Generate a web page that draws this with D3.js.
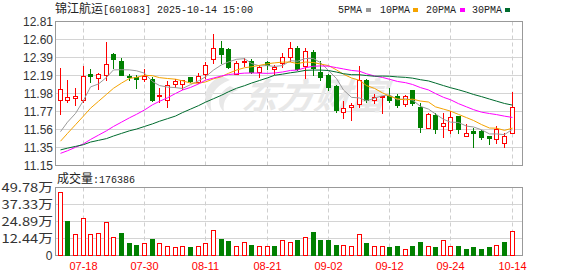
<!DOCTYPE html>
<html><head><meta charset="utf-8">
<script src="https://cdn.jsdelivr.net/npm/d3@7"></script>
<style>body{margin:0;background:#fff}svg{display:block}</style>
</head><body>
<svg id="c" width="578" height="276"></svg>
<script>
const dates = ["07-15","07-16","07-17","07-18","07-21","07-22","07-23","07-24","07-25","07-28","07-29","07-30","07-31",
"08-01","08-04","08-05","08-06","08-07","08-08","08-11","08-12","08-13","08-14","08-15","08-18","08-19","08-20","08-21","08-22","08-25","08-26","08-27","08-28","08-29",
"09-01","09-02","09-03","09-04","09-05","09-08","09-09","09-10","09-11","09-12","09-15","09-16","09-17","09-18","09-19","09-22","09-23","09-24","09-25","09-26","09-29","09-30",
"10-09","10-10","10-13","10-14"];
const open  = [11.90,11.91,11.93,11.90,12.20,12.16,12.19,12.44,12.36,12.18,12.17,12.15,12.15,11.95,11.91,12.09,12.09,12.17,12.11,12.21,12.38,12.50,12.49,12.21,12.34,12.35,12.23,12.34,12.26,12.33,12.40,12.50,12.30,12.46,12.23,12.19,12.07,11.77,11.83,11.86,12.13,11.91,11.94,11.95,11.95,11.86,12.02,11.83,11.58,11.73,11.61,11.56,11.72,11.49,11.55,11.55,11.49,11.46,11.41,11.53];
const high  = [12.27,12.13,12.04,12.30,12.26,12.22,12.57,12.45,12.39,12.21,12.19,12.26,12.17,12.04,12.12,12.15,12.14,12.17,12.22,12.34,12.67,12.59,12.51,12.35,12.39,12.38,12.31,12.35,12.31,12.45,12.57,12.53,12.50,12.48,12.35,12.21,12.08,11.89,11.87,12.30,12.15,11.98,11.95,12.04,11.97,11.96,12.02,11.87,11.76,11.76,11.76,11.78,11.72,11.63,11.58,11.56,11.49,11.60,11.53,12.00];
const low   = [11.74,11.88,11.85,11.88,12.11,12.03,12.13,12.27,12.19,12.13,12.04,12.12,11.89,11.88,11.82,12.05,12.03,12.11,12.10,12.16,12.33,12.33,12.27,12.20,12.30,12.22,12.17,12.26,12.21,12.28,12.36,12.25,12.16,12.19,12.13,12.02,11.77,11.70,11.68,11.82,11.88,11.87,11.75,11.88,11.83,11.84,11.85,11.54,11.58,11.53,11.48,11.53,11.53,11.49,11.36,11.45,11.40,11.41,11.36,11.53];
const close = [12.03,11.94,11.95,12.18,12.18,12.20,12.32,12.38,12.19,12.17,12.15,12.18,11.90,11.96,12.08,12.12,12.13,12.12,12.18,12.31,12.51,12.43,12.29,12.33,12.35,12.23,12.29,12.31,12.28,12.40,12.51,12.26,12.47,12.27,12.17,12.06,11.79,11.81,11.85,12.13,11.90,11.94,11.95,11.90,11.85,11.95,11.87,11.59,11.74,11.57,11.64,11.71,11.57,11.53,11.52,11.48,11.47,11.57,11.49,11.83];
const ma5  = [11.54,11.65,11.75,11.90,12.056,12.090,12.166,12.252,12.254,12.252,12.242,12.214,12.118,12.072,12.054,12.048,12.038,12.082,12.126,12.172,12.250,12.310,12.344,12.374,12.382,12.326,12.298,12.302,12.292,12.302,12.358,12.352,12.384,12.382,12.336,12.246,12.152,12.020,11.936,11.928,11.896,11.926,11.954,11.964,11.908,11.918,11.904,11.832,11.800,11.744,11.682,11.650,11.646,11.604,11.594,11.562,11.514,11.514,11.506,11.568];
const ma10 = [11.43,11.52,11.62,11.72,11.81,11.89,11.97,12.04,12.10,12.154,12.166,12.190,12.185,12.163,12.153,12.145,12.126,12.100,12.099,12.113,12.149,12.174,12.213,12.250,12.277,12.288,12.304,12.323,12.333,12.342,12.342,12.325,12.343,12.337,12.319,12.302,12.252,12.202,12.159,12.132,12.071,12.039,11.987,11.950,11.918,11.907,11.915,11.893,11.882,11.826,11.800,11.777,11.739,11.702,11.669,11.622,11.582,11.580,11.555,11.581];
const ma20 = [11.29,11.32,11.36,11.40,11.45,11.50,11.55,11.60,11.65,11.70,11.74,11.79,11.85,11.89,11.93,11.98,12.02,12.05,12.09,12.134,12.158,12.182,12.199,12.207,12.215,12.217,12.215,12.212,12.216,12.228,12.246,12.250,12.278,12.294,12.298,12.295,12.278,12.263,12.246,12.237,12.207,12.182,12.165,12.144,12.119,12.105,12.084,12.048,12.021,11.979,11.936,11.908,11.863,11.826,11.794,11.765,11.749,11.737,11.719,11.704];
const ma30 = [11.33,11.35,11.37,11.39,11.42,11.44,11.46,11.49,11.52,11.55,11.57,11.60,11.63,11.66,11.69,11.72,11.76,11.80,11.84,11.88,11.92,11.96,12.00,12.04,12.07,12.10,12.13,12.16,12.19,12.203,12.219,12.230,12.247,12.250,12.250,12.245,12.227,12.208,12.197,12.196,12.187,12.179,12.181,12.179,12.171,12.166,12.157,12.139,12.125,12.100,12.071,12.047,12.023,11.996,11.969,11.944,11.916,11.892,11.865,11.846];
// volume in 万 (10,000 shares)
const volume = [46.8,24.9,16.1,27.6,15.4,16.8,24.2,13.2,16.3,9.5,8.05,9.5,12.4,8.8,7.3,5.9,7.3,5.9,7.3,8.8,19.0,12.4,10.5,6.6,10.2,8.05,6.6,7.3,6.6,11.7,10.2,11.7,13.2,17.1,11.7,11.7,8.05,8.05,7.3,16.1,8.8,6.6,6.6,5.9,7.3,5.1,6.6,10.2,7.3,5.9,11.0,7.3,6.6,4.4,5.9,4.4,5.9,8.05,9.8,17.6386];
// 1 = up vs previous close (red), 0 = down (green)
const volUp = [1,0,1,1,1,1,1,1,0,0,0,1,0,1,1,1,1,0,1,1,1,0,0,1,1,0,1,1,0,1,1,0,1,0,0,0,0,1,1,1,0,1,1,0,0,1,0,0,1,0,1,1,0,0,0,0,0,1,0,1];
const priceTicks = [11.15,11.3575,11.565,11.7725,11.98,12.1875,12.395,12.6025,12.81];
const priceTickLabels = ["11.15","11.35","11.56","11.77","11.98","12.19","12.39","12.60","12.81"];
const volTicks = [0,12.445,24.89,37.335,49.78];
const volTickLabels = ["0","12.44万","24.89万","37.33万","49.78万"];
const dateTicks = ["07-18","07-30","08-11","08-21","09-02","09-12","09-24","10-14"];
const maNames = ["5PMA","10PMA","20PMA","30PMA"];
const title = {name:"锦江航运", rest:"[601083] 2025-10-14 15:00"};

const RED="#ff0000", GREEN="#008000";
const maColors = ["#9a9a9a","#f5a300","#ff00ff","#006b2e"];
const MONO = "'Liberation Mono','DejaVu Sans Mono',monospace";
const CJK = "'Noto Sans CJK SC','Noto Sans',sans-serif";
const SANS = "'Liberation Sans',Arial,sans-serif";

const svg = d3.select("#c");
const L = 55.5, R = 522.5;
const x = d3.scaleBand().domain(dates).range([56.5, 56.5 + dates.length*7.66]).padding(0);
const xc = d => Math.floor(x(d) + x.bandwidth()/2);
const y = d3.scaleLinear().domain([11.15,12.81]).range([165.5,21.5]);
const yv = d3.scaleLinear().domain([0,49.78]).range([255.5,187.5]);
const snap = v => Math.round(v - 0.5) + 0.5;

// ---------- grids ----------
function panel(top, bottom, ticks, scale){
  const g = svg.append("g");
  ticks.forEach(t => {
    const yy = snap(scale(t));
    g.append("line").attr("x1",L).attr("x2",R).attr("y1",yy).attr("y2",yy)
      .attr("stroke","#d4d4d4").attr("stroke-width",1);
  });
  dateTicks.forEach(d => {
    const xx = xc(d) + 0.5;
    g.append("line").attr("x1",xx).attr("x2",xx).attr("y1",top).attr("y2",bottom)
      .attr("stroke","#cfcfcf").attr("stroke-dasharray","4,3");
  });
  return g;
}
panel(21.5,165.5,priceTicks,y);
panel(187.5,255.5,volTicks,yv);

// watermark
const wm = svg.append("g");
wm.append("text").attr("x",242).attr("y",109).text("东方财富")
  .attr("font-family",CJK).attr("font-size",36).attr("font-weight","bold")
  .attr("font-style","italic").attr("fill","#e8e8e8")
  .attr("transform","skewX(-8) translate(14,0)");
wm.append("path").attr("d","M222,76 C205,82 200,100 212,112 C208,98 214,86 230,80 Z M230,86 C218,92 216,104 224,112 C222,100 228,94 238,90 Z")
  .attr("fill","#e8e8e8");

// borders
svg.append("rect").attr("x",L).attr("y",21.5).attr("width",R-L).attr("height",144)
  .attr("fill","none").attr("stroke","#999");
svg.append("rect").attr("x",L).attr("y",187.5).attr("width",R-L).attr("height",68)
  .attr("fill","none").attr("stroke","#999");

// ---------- candles ----------
const idx = d3.range(dates.length);
const cg = svg.append("g");
idx.forEach(i => {
  const cx = xc(dates[i]);
  const up = close[i] >= open[i];
  const col = up ? RED : GREEN;
  const yh = Math.round(y(high[i])), yl = Math.round(y(low[i]));
  const yo = Math.round(y(open[i])), yc = Math.round(y(close[i]));
  cg.append("line").attr("x1",cx+0.5).attr("x2",cx+0.5).attr("y1",yh).attr("y2",yl+1)
    .attr("stroke",col).attr("stroke-width",1);
  const top = Math.min(yo,yc), bot = Math.max(yo,yc);
  if (up) {
    if (bot - top < 1) {
      cg.append("line").attr("x1",cx-2).attr("x2",cx+3).attr("y1",top+0.5).attr("y2",top+0.5).attr("stroke",col);
    } else {
      cg.append("rect").attr("x",cx-1.5).attr("y",top+0.5).attr("width",4).attr("height",bot-top)
        .attr("fill","#fff").attr("stroke",col).attr("stroke-width",1);
    }
  } else {
    cg.append("rect").attr("x",cx-2).attr("y",top).attr("width",5).attr("height",Math.max(1,bot-top+1))
      .attr("fill",col);
  }
});

// ---------- MA lines ----------
[ma5,ma10,ma20,ma30].forEach((arr,k) => {
  const line = d3.line().x((v,i)=>xc(dates[i])+0.5).y(v=>y(v));
  svg.append("path").attr("d",line(arr)).attr("fill","none")
    .attr("stroke",maColors[k]).attr("stroke-width",1);
});

// ---------- volume ----------
const vg = svg.append("g");
idx.forEach(i => {
  const cx = xc(dates[i]);
  const yt = Math.round(yv(volume[i]));
  if (volUp[i]) {
    vg.append("rect").attr("x",cx-1.5).attr("y",yt+0.5).attr("width",4).attr("height",255-yt)
      .attr("fill","#fff").attr("stroke",RED);
  } else {
    vg.append("rect").attr("x",cx-2).attr("y",yt).attr("width",5).attr("height",256-yt).attr("fill",GREEN);
  }
});

// ---------- labels ----------
priceTicks.forEach((t,i) => {
  svg.append("text").attr("x",53).attr("y",snap(y(t))+4.5).attr("text-anchor","end")
    .attr("font-family",SANS).attr("font-size",12).attr("fill","#333").text(priceTickLabels[i]);
});
volTicks.forEach((t,i) => {
  const yy = snap(yv(t)) + 4.5;
  if (t === 0) {
    svg.append("text").attr("x",52.5).attr("y",yy).attr("text-anchor","end")
      .attr("font-family",SANS).attr("font-size",12).attr("fill","#333").text(volTickLabels[i]);
  } else {
    svg.append("text").attr("x",1.5).attr("y",yy).attr("textLength",51.5).attr("lengthAdjust","spacingAndGlyphs")
      .attr("font-family",CJK).attr("font-size",12).attr("fill","#333").text(volTickLabels[i]);
  }
});
dateTicks.forEach(d => {
  svg.append("text").attr("x",xc(d)+0.5).attr("y",270).attr("text-anchor","middle")
    .attr("font-family",SANS).attr("font-size",11).attr("fill",RED).text(d);
});

// title
const tt = svg.append("text").attr("x",55).attr("y",13).attr("fill","#222");
tt.append("tspan").attr("font-family",CJK).attr("font-size",12).text(title.name);
tt.append("tspan").attr("font-family",MONO).attr("font-size",10).text(title.rest);

// legend
const legX = [338,380,426,472], sqX = [366,413,460,505];
maNames.forEach((n,k) => {
  svg.append("text").attr("x",legX[k]).attr("y",13).attr("font-family",MONO).attr("font-size",10)
    .attr("fill","#222").text(n);
  svg.append("rect").attr("x",sqX[k]).attr("y",8).attr("width",5).attr("height",4).attr("fill",maColors[k]);
});

// volume title
const vt = svg.append("text").attr("x",57).attr("y",183).attr("fill","#222");
vt.append("tspan").attr("font-family",CJK).attr("font-size",12).text("成交量");
vt.append("tspan").attr("font-family",MONO).attr("font-size",10).text(":" + Math.round(volume[volume.length-1]*10000));
</script>
</body></html>
